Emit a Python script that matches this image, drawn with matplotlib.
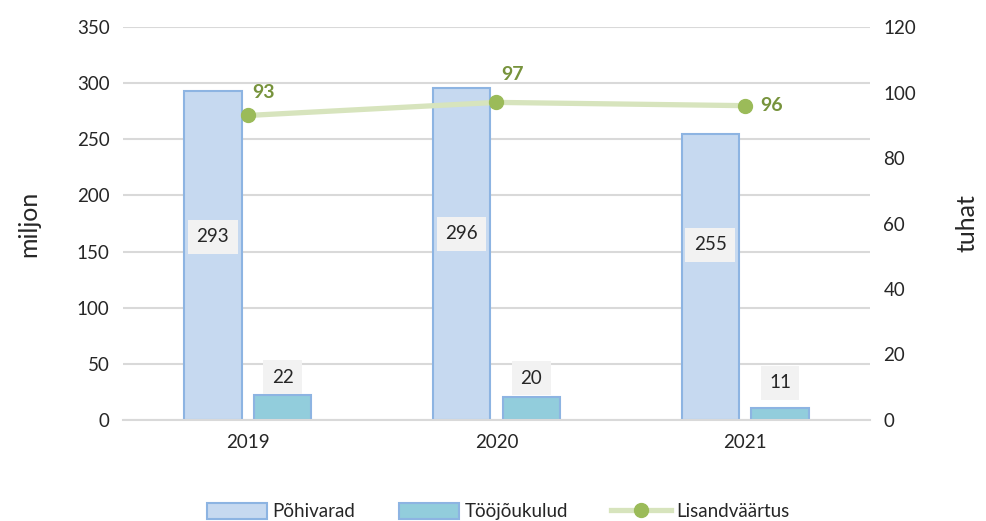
import numpy as np
import matplotlib.pyplot as plt
from matplotlib.patches import Patch
from matplotlib.lines import Line2D

plt.rcParams['font.family'] = ['Lato', 'DejaVu Sans']

years = ['2019', '2020', '2021']
pohivarad = [293, 296, 255]
toojoukulud = [22, 20, 11]
lisandvaartus = [93, 97, 96]

fig = plt.figure(figsize=(9.87, 5.21), dpi=100)
ax = fig.add_axes([0.125, 0.194, 0.756, 0.754])
ax2 = ax.twinx()

x = np.arange(len(years))
w = 0.23
ax.bar(x - 0.14, pohivarad, w, color='#C6D9F0', edgecolor='#8DB4E2', linewidth=1.5, zorder=2)
ax.bar(x + 0.14, toojoukulud, w, color='#92CDDC', edgecolor='#8DB4E2', linewidth=1.5, zorder=2)

ax.set_xlim(-0.5, 2.5)
ax.set_ylim(0, 350)
ax.set_yticks(np.arange(0, 351, 50))
ax.grid(axis='y', color='#D9D9D9', linewidth=1.5, zorder=0)
ax.set_axisbelow(True)
for s in ['top', 'right', 'left']:
    ax.spines[s].set_visible(False)
ax.spines['bottom'].set_color('#D9D9D9')
ax.spines['bottom'].set_linewidth(1.5)
ax.tick_params(axis='both', length=0, labelsize=13.5, colors='#262626', pad=10)
ax.set_xticks(x)
ax.set_xticklabels(years)
ax.set_ylabel('miljon', fontsize=18, color='#262626', labelpad=26)

# bar labels
box = dict(boxstyle='square,pad=0.45', facecolor='#F2F2F2', edgecolor='none')
lab_y = [163, 166, 156]
for xi, v, ly in zip(x, pohivarad, lab_y):
    ax.text(xi - 0.14, ly, str(v), ha='center', va='center', fontsize=13.5,
            color='#262626', bbox=box, zorder=3)
lab_dy = [16, 17, 22]
for xi, v, dy in zip(x, toojoukulud, lab_dy):
    ax.text(xi + 0.14, v + dy, str(v), ha='center', va='center', fontsize=13.5,
            color='#262626', bbox=box, zorder=3)

ax2.plot(x, lisandvaartus, color='#D7E4BD', linewidth=3.8, marker='o',
         markersize=10, markerfacecolor='#9BBB59', markeredgecolor='#9BBB59', zorder=4)
ax2.set_ylim(0, 120)
ax2.set_yticks(np.arange(0, 121, 20))
for s in ax2.spines.values():
    s.set_visible(False)
ax2.tick_params(axis='y', length=0, labelsize=13.5, colors='#262626', pad=10)
ax2.set_ylabel('tuhat', fontsize=18, color='#262626', labelpad=28)

offs = [(0.02, 7), (0.02, 8.5), (0.06, 0)]
for xi, v, (dx, dy) in zip(x, lisandvaartus, offs):
    ax2.text(xi + dx, v + dy, str(v), ha='left', va='center', fontsize=14,
             fontweight='bold', color='#77933C')

handles = [
    Patch(facecolor='#C6D9F0', edgecolor='#8DB4E2', linewidth=1.5),
    Patch(facecolor='#92CDDC', edgecolor='#8DB4E2', linewidth=1.5),
    Line2D([0], [0], color='#D7E4BD', linewidth=3.8, marker='o', markersize=10,
           markerfacecolor='#9BBB59', markeredgecolor='#9BBB59'),
]
fig.legend(handles, ['Põhivarad', 'Tööjõukulud', 'Lisandväärtus'], loc='center',
           bbox_to_anchor=(0.505, 0.018), ncol=3, frameon=False, fontsize=13.5,
           handlelength=3.2, handleheight=0.9, columnspacing=2.3, handletextpad=0.3,
           labelcolor='#262626')

fig.savefig('out.png', dpi=100)
